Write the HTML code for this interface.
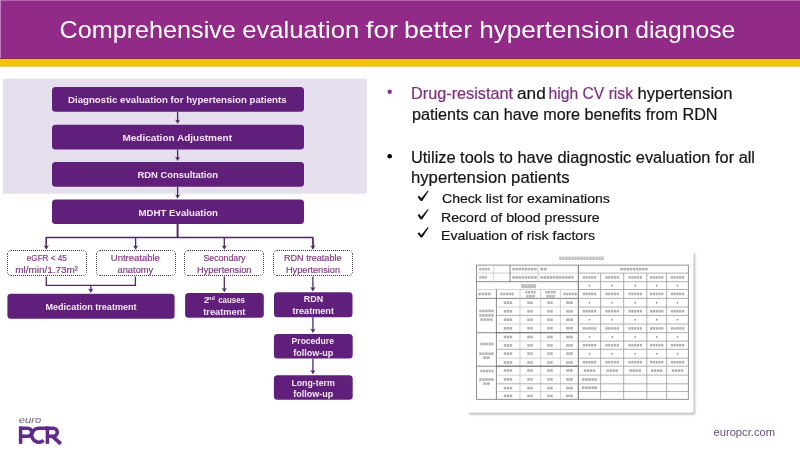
<!DOCTYPE html>
<html><head><meta charset="utf-8">
<style>
html,body{margin:0;padding:0;background:#fff;}
body{width:800px;height:450px;overflow:hidden;position:relative;font-family:"Liberation Sans",sans-serif;}
svg{position:absolute;left:0;top:0;will-change:transform;}
.t{fill:#fff;font-family:"Liberation Sans",sans-serif;}
.w{fill:#f7e8f8;font-weight:bold;font-family:"Liberation Sans",sans-serif;}
.p{fill:#7e3181;stroke:#7e3181;stroke-width:0.15;font-family:"Liberation Sans",sans-serif;}
.p2{fill:#7e2f7e;stroke:#7e2f7e;stroke-width:0.2;font-family:"Liberation Sans",sans-serif;}
.k{fill:#141414;stroke:#141414;stroke-width:0.2;font-family:"Liberation Sans",sans-serif;}
</style></head>
<body>
<svg width="800" height="450" viewBox="0 0 800 450">
<defs>
<filter id="sh" x="-5%" y="-5%" width="115%" height="115%"><feGaussianBlur stdDeviation="1.2"/></filter>
</defs>
<!-- header -->
<rect x="0" y="0" width="800" height="59" fill="#922a88"/>
<rect x="0" y="0" width="800" height="1" fill="#b567ae"/>
<rect x="0" y="0" width="1" height="59" fill="#c27fc0"/>
<rect x="0" y="58" width="800" height="1" fill="#8a2848"/>
<rect x="0" y="59" width="800" height="1" fill="#f4b451"/>
<rect x="0" y="60" width="800" height="6.2" fill="#f3c30a"/>
<rect x="0" y="66.2" width="800" height="0.8" fill="#e6c445"/>
<text class="t" x="59.60" y="38" font-size="24" textLength="176.24" lengthAdjust="spacingAndGlyphs">Comprehensive</text>
<text class="t" x="242.20" y="38" font-size="24" textLength="117.02" lengthAdjust="spacingAndGlyphs">evaluation</text>
<text class="t" x="365.80" y="38" font-size="24" textLength="32.21" lengthAdjust="spacingAndGlyphs">for</text>
<text class="t" x="404.00" y="38" font-size="24" textLength="68.03" lengthAdjust="spacingAndGlyphs">better</text>
<text class="t" x="479.20" y="38" font-size="24" textLength="149.68" lengthAdjust="spacingAndGlyphs">hypertension</text>
<text class="t" x="635.20" y="38" font-size="24" textLength="100.01" lengthAdjust="spacingAndGlyphs">diagnose</text>

<!-- lavender panel -->
<rect x="3" y="78.7" width="364" height="115" fill="#e5dfee"/>

<!-- main boxes -->
<rect x="52" y="87" width="252" height="24.7" rx="3.5" fill="#601f7b"/>
<rect x="52" y="124.7" width="252" height="24.7" rx="3.5" fill="#601f7b"/>
<rect x="52" y="162" width="252" height="24.7" rx="3.5" fill="#601f7b"/>
<rect x="52" y="199.6" width="252" height="24.4" rx="3.5" fill="#601f7b"/>
<text class="w" x="68.00" y="103" font-size="9.8" textLength="218.60" lengthAdjust="spacingAndGlyphs">Diagnostic evaluation for hypertension patients</text>
<text class="w" x="122.40" y="140.7" font-size="9.8" textLength="109.62" lengthAdjust="spacingAndGlyphs">Medication Adjustment</text>
<text class="w" x="137.40" y="178.3" font-size="9.8" textLength="80.60" lengthAdjust="spacingAndGlyphs">RDN Consultation</text>
<text class="w" x="138.50" y="215.5" font-size="9.8" textLength="79.51" lengthAdjust="spacingAndGlyphs">MDHT Evaluation</text>

<!-- arrows between main boxes -->
<g stroke="#4f2868" stroke-width="1.3" fill="none">
<path d="M177.6,111.7 V121.8" stroke-width="1.3"/>
<path d="M177.6,149.4 V159.1" stroke-width="1.3"/>
<path d="M177.6,186.7 V196.7" stroke-width="1.3"/>
<path d="M177.6,224 V237.5" stroke-width="2"/>
<path d="M46.3,248 V237.5 H312.9 V248"/>
<path d="M46.3,237.5 V247.7" stroke-width="1.3"/>
<path d="M135.6,237.5 V247.7" stroke-width="1.3"/>
<path d="M224.3,237.5 V247.7" stroke-width="1.3"/>
<path d="M312.9,237.5 V247.7" stroke-width="1.3"/>
<path d="M46.3,276.5 V285.3 H135.4 V276.5"/>
<path d="M90.8,285.3 V290.90000000000003" stroke-width="1.3"/>
<path d="M224.3,276.5 V290.20000000000005" stroke-width="1.3"/>
<path d="M312.9,276.5 V289.40000000000003" stroke-width="1.3"/>
<path d="M312.9,317.3 V331.0" stroke-width="1.3"/>
<path d="M312.9,358.4 V372.3" stroke-width="1.3"/>
</g>
<g fill="#4f2868">
<path d="M175.00,119.40 L177.6,123.8 L180.20,119.40 L177.6,120.50 Z"/>
<path d="M175.00,156.70 L177.6,161.1 L180.20,156.70 L177.6,157.80 Z"/>
<path d="M175.00,194.30 L177.6,198.7 L180.20,194.30 L177.6,195.40 Z"/>
<path d="M43.70,245.30 L46.3,249.7 L48.90,245.30 L46.3,246.40 Z"/>
<path d="M133.00,245.30 L135.6,249.7 L138.20,245.30 L135.6,246.40 Z"/>
<path d="M221.70,245.30 L224.3,249.7 L226.90,245.30 L224.3,246.40 Z"/>
<path d="M310.30,245.30 L312.9,249.7 L315.50,245.30 L312.9,246.40 Z"/>
<path d="M88.20,288.50 L90.8,292.90000000000003 L93.40,288.50 L90.8,289.60 Z"/>
<path d="M221.70,287.80 L224.3,292.20000000000005 L226.90,287.80 L224.3,288.90 Z"/>
<path d="M310.30,287.00 L312.9,291.40000000000003 L315.50,287.00 L312.9,288.10 Z"/>
<path d="M310.30,328.60 L312.9,333.0 L315.50,328.60 L312.9,329.70 Z"/>
<path d="M310.30,369.90 L312.9,374.3 L315.50,369.90 L312.9,371.00 Z"/>
</g>

<!-- dotted boxes -->
<g fill="#fff" stroke="none">
<rect x="7" y="250" width="80" height="26" rx="4"/>
<rect x="96" y="250" width="80" height="26" rx="4"/>
<rect x="184" y="250" width="80" height="26" rx="4"/>
<rect x="273" y="250" width="80" height="26" rx="4"/>
</g>
<g fill="none" stroke="#45334f" stroke-width="1" stroke-dasharray="1,1">
<path d="M11,250.5 H83"/>
<path d="M11,275.5 H83"/>
<path d="M7.5,254 V272"/>
<path d="M86.5,254 V272"/>
<path d="M7.5,254 A3.5,3.5 0 0 1 11,250.5"/>
<path d="M83,250.5 A3.5,3.5 0 0 1 86.5,254"/>
<path d="M86.5,272 A3.5,3.5 0 0 1 83,275.5"/>
<path d="M11,275.5 A3.5,3.5 0 0 1 7.5,272"/>
<path d="M100,250.5 H172"/>
<path d="M100,275.5 H172"/>
<path d="M96.5,254 V272"/>
<path d="M175.5,254 V272"/>
<path d="M96.5,254 A3.5,3.5 0 0 1 100,250.5"/>
<path d="M172,250.5 A3.5,3.5 0 0 1 175.5,254"/>
<path d="M175.5,272 A3.5,3.5 0 0 1 172,275.5"/>
<path d="M100,275.5 A3.5,3.5 0 0 1 96.5,272"/>
<path d="M188,250.5 H260"/>
<path d="M188,275.5 H260"/>
<path d="M184.5,254 V272"/>
<path d="M263.5,254 V272"/>
<path d="M184.5,254 A3.5,3.5 0 0 1 188,250.5"/>
<path d="M260,250.5 A3.5,3.5 0 0 1 263.5,254"/>
<path d="M263.5,272 A3.5,3.5 0 0 1 260,275.5"/>
<path d="M188,275.5 A3.5,3.5 0 0 1 184.5,272"/>
<path d="M277,250.5 H349"/>
<path d="M277,275.5 H349"/>
<path d="M273.5,254 V272"/>
<path d="M352.5,254 V272"/>
<path d="M273.5,254 A3.5,3.5 0 0 1 277,250.5"/>
<path d="M349,250.5 A3.5,3.5 0 0 1 352.5,254"/>
<path d="M352.5,272 A3.5,3.5 0 0 1 349,275.5"/>
<path d="M277,275.5 A3.5,3.5 0 0 1 273.5,272"/>
</g>
<text class="p" x="26.80" y="261" font-size="9.2" textLength="40.00" lengthAdjust="spacingAndGlyphs">eGFR &lt; 45</text>
<text class="p" x="15.20" y="272.5" font-size="9.2" textLength="63.00" lengthAdjust="spacingAndGlyphs">ml/min/1.73m²</text>
<text class="p" x="110.80" y="261" font-size="9.2" textLength="49.05" lengthAdjust="spacingAndGlyphs">Untreatable</text>
<text class="p" x="117.50" y="272.75" font-size="9.2" textLength="35.75" lengthAdjust="spacingAndGlyphs">anatomy</text>
<text class="p" x="203.50" y="261" font-size="9.2" textLength="42.01" lengthAdjust="spacingAndGlyphs">Secondary</text>
<text class="p" x="197.00" y="272.5" font-size="9.2" textLength="54.51" lengthAdjust="spacingAndGlyphs">Hypertension</text>
<text class="p" x="284.00" y="261" font-size="9.2" textLength="57.53" lengthAdjust="spacingAndGlyphs">RDN treatable</text>
<text class="p" x="286.00" y="272.5" font-size="9.2" textLength="54.00" lengthAdjust="spacingAndGlyphs">Hypertension</text>

<!-- lower boxes -->
<rect x="7.4" y="293.8" width="167.2" height="24.9" rx="3.5" fill="#601f7b"/>
<rect x="185.1" y="293.1" width="78.7" height="24.75" rx="3.5" fill="#601f7b"/>
<rect x="274" y="292.3" width="78.5" height="25" rx="3.5" fill="#601f7b"/>
<rect x="273.9" y="333.9" width="78.8" height="24.5" rx="3.5" fill="#601f7b"/>
<rect x="273.9" y="375.2" width="78.8" height="24.5" rx="3.5" fill="#601f7b"/>
<text class="w" x="45.50" y="310" font-size="9.0" textLength="91.05" lengthAdjust="spacingAndGlyphs">Medication treatment</text>
<text class="w" x="203.9" y="303" font-size="9.0">2<tspan font-size="5.8" x="208.1" dy="-3.4" textLength="6.8" lengthAdjust="spacingAndGlyphs">nd</tspan><tspan dy="3.4" x="218.2" textLength="26.8" lengthAdjust="spacingAndGlyphs">causes</tspan></text>
<text class="w" x="203.20" y="314.8" font-size="9.0" textLength="42.26" lengthAdjust="spacingAndGlyphs">treatment</text>
<text class="w" x="303.80" y="302.4" font-size="9.0" textLength="19.36" lengthAdjust="spacingAndGlyphs">RDN</text>
<text class="w" x="292.40" y="314.4" font-size="9.0" textLength="41.60" lengthAdjust="spacingAndGlyphs">treatment</text>
<text class="w" x="291.60" y="344" font-size="9.0" textLength="42.31" lengthAdjust="spacingAndGlyphs">Procedure</text>
<text class="w" x="293.20" y="355.6" font-size="9.0" textLength="40.00" lengthAdjust="spacingAndGlyphs">follow-up</text>
<text class="w" x="291.40" y="385.5" font-size="9.0" textLength="43.44" lengthAdjust="spacingAndGlyphs">Long-term</text>
<text class="w" x="293.20" y="397" font-size="9.0" textLength="40.00" lengthAdjust="spacingAndGlyphs">follow-up</text>

<!-- right bullets -->
<circle cx="389.7" cy="91.8" r="2.2" fill="#932a8f"/>
<text x="411.00" y="98.75" font-size="16" class="p2" textLength="102.04" lengthAdjust="spacingAndGlyphs">Drug-resistant</text>
<text x="517.00" y="98.75" font-size="16" class="k" textLength="28.71" lengthAdjust="spacingAndGlyphs">and</text>
<text x="548.50" y="98.75" font-size="16" class="p2" textLength="84.52" lengthAdjust="spacingAndGlyphs">high CV risk</text>
<text x="637.50" y="98.75" font-size="16" class="k" textLength="95.07" lengthAdjust="spacingAndGlyphs">hypertension</text>
<text x="412.00" y="120" font-size="16" class="k" textLength="305.51" lengthAdjust="spacingAndGlyphs">patients can have more benefits from RDN</text>
<circle cx="389.7" cy="156.2" r="2.3" fill="#000"/>
<text x="411.00" y="162.5" font-size="16" class="k" textLength="344.01" lengthAdjust="spacingAndGlyphs">Utilize tools to have diagnostic evaluation for all</text>
<text x="411.00" y="183" font-size="16" class="k" textLength="158.53" lengthAdjust="spacingAndGlyphs">hypertension patients</text>
<g fill="#141414">
<path transform="translate(0,0)" d="M417.5,196.9 L419.2,195.7 L421.3,198.3 L427.8,190.5 L428.7,191.1 L422.2,200.9 L420.7,201.0 Z"/>
<path transform="translate(0,18.4)" d="M417.5,196.9 L419.2,195.7 L421.3,198.3 L427.8,190.5 L428.7,191.1 L422.2,200.9 L420.7,201.0 Z"/>
<path transform="translate(0,36.6)" d="M417.5,196.9 L419.2,195.7 L421.3,198.3 L427.8,190.5 L428.7,191.1 L422.2,200.9 L420.7,201.0 Z"/>
</g>
<text x="442.00" y="203" font-size="13.4" class="k" textLength="167.80" lengthAdjust="spacingAndGlyphs">Check list for examinations</text>
<text x="441.00" y="221.5" font-size="13.4" class="k" textLength="158.53" lengthAdjust="spacingAndGlyphs">Record of blood pressure</text>
<text x="441.00" y="240" font-size="13.4" class="k" textLength="154.01" lengthAdjust="spacingAndGlyphs">Evaluation of risk factors</text>

<!-- table image -->
<g id="tbl">
<rect x="469" y="253.5" width="226" height="161" fill="#bbb" filter="url(#sh)"/>
<rect x="467.5" y="251.7" width="226" height="161" fill="#fff"/>
<rect x="559.3" y="256.6" width="2.4" height="3.4" fill="#777" opacity="0.5"/>
<rect x="562.3" y="256.6" width="2.4" height="3.4" fill="#777" opacity="0.5"/>
<rect x="565.3" y="256.6" width="2.4" height="3.4" fill="#777" opacity="0.5"/>
<rect x="568.3" y="256.6" width="2.4" height="3.4" fill="#777" opacity="0.5"/>
<rect x="571.3" y="256.6" width="2.4" height="3.4" fill="#777" opacity="0.5"/>
<rect x="574.3" y="256.6" width="2.4" height="3.4" fill="#777" opacity="0.5"/>
<rect x="577.3" y="256.6" width="2.4" height="3.4" fill="#777" opacity="0.5"/>
<rect x="580.3" y="256.6" width="2.4" height="3.4" fill="#777" opacity="0.5"/>
<rect x="583.3" y="256.6" width="2.4" height="3.4" fill="#777" opacity="0.5"/>
<rect x="586.3" y="256.6" width="2.4" height="3.4" fill="#777" opacity="0.5"/>
<rect x="589.3" y="256.6" width="2.4" height="3.4" fill="#777" opacity="0.5"/>
<rect x="592.3" y="256.6" width="2.4" height="3.4" fill="#777" opacity="0.5"/>
<rect x="595.3" y="256.6" width="2.4" height="3.4" fill="#777" opacity="0.5"/>
<rect x="598.3" y="256.6" width="2.4" height="3.4" fill="#777" opacity="0.5"/>
<rect x="601.3" y="256.6" width="2.4" height="3.4" fill="#777" opacity="0.5"/>
<rect x="476.5" y="265.1" width="211.79999999999995" height="134.2" fill="none" stroke="#777" stroke-width="0.8"/>
<line x1="476.5" y1="273.1" x2="578.3" y2="273.1" stroke="#c4c4c4" stroke-width="0.8"/>
<line x1="476.5" y1="281.7" x2="578.3" y2="281.7" stroke="#6a6a6a" stroke-width="0.8"/>
<line x1="476.5" y1="289.5" x2="578.3" y2="289.5" stroke="#c4c4c4" stroke-width="0.8"/>
<line x1="476.5" y1="298.4" x2="578.3" y2="298.4" stroke="#6a6a6a" stroke-width="0.8"/>
<line x1="493.7" y1="265.1" x2="493.7" y2="281.7" stroke="#c4c4c4" stroke-width="0.8"/>
<line x1="510" y1="265.1" x2="510" y2="281.7" stroke="#6a6a6a" stroke-width="0.8"/>
<line x1="538" y1="265.1" x2="538" y2="281.7" stroke="#c4c4c4" stroke-width="0.8"/>
<line x1="578.3" y1="265.1" x2="578.3" y2="399.3" stroke="#6a6a6a" stroke-width="1.0"/>
<line x1="496.4" y1="289.5" x2="496.4" y2="399.3" stroke="#6a6a6a" stroke-width="0.8"/>
<line x1="520" y1="289.5" x2="520" y2="399.3" stroke="#c4c4c4" stroke-width="0.8"/>
<line x1="540.7" y1="289.5" x2="540.7" y2="399.3" stroke="#c4c4c4" stroke-width="0.8"/>
<line x1="560.4" y1="289.5" x2="560.4" y2="399.3" stroke="#c4c4c4" stroke-width="0.8"/>
<line x1="496.4" y1="307.0" x2="578.3" y2="307.0" stroke="#c4c4c4" stroke-width="0.8"/>
<line x1="496.4" y1="315.4" x2="578.3" y2="315.4" stroke="#9a9a9a" stroke-width="0.8"/>
<line x1="496.4" y1="324.0" x2="578.3" y2="324.0" stroke="#c4c4c4" stroke-width="0.8"/>
<line x1="496.4" y1="332.7" x2="578.3" y2="332.7" stroke="#6a6a6a" stroke-width="0.8"/>
<line x1="496.4" y1="341.1" x2="578.3" y2="341.1" stroke="#c4c4c4" stroke-width="0.8"/>
<line x1="496.4" y1="349.3" x2="578.3" y2="349.3" stroke="#9a9a9a" stroke-width="0.8"/>
<line x1="496.4" y1="358.2" x2="578.3" y2="358.2" stroke="#c4c4c4" stroke-width="0.8"/>
<line x1="496.4" y1="366.2" x2="578.3" y2="366.2" stroke="#6a6a6a" stroke-width="0.8"/>
<line x1="496.4" y1="375.1" x2="578.3" y2="375.1" stroke="#c4c4c4" stroke-width="0.8"/>
<line x1="496.4" y1="383.8" x2="578.3" y2="383.8" stroke="#9a9a9a" stroke-width="0.8"/>
<line x1="496.4" y1="391.6" x2="578.3" y2="391.6" stroke="#c4c4c4" stroke-width="0.8"/>
<line x1="476.5" y1="332.7" x2="578.3" y2="332.7" stroke="#6a6a6a" stroke-width="0.8"/>
<line x1="476.5" y1="366.2" x2="578.3" y2="366.2" stroke="#6a6a6a" stroke-width="0.8"/>
<line x1="578.3" y1="273.1" x2="688.3" y2="273.1" stroke="#9a9a9a" stroke-width="0.8"/>
<line x1="578.3" y1="281.7" x2="688.3" y2="281.7" stroke="#9a9a9a" stroke-width="0.8"/>
<line x1="578.3" y1="289.5" x2="688.3" y2="289.5" stroke="#9a9a9a" stroke-width="0.8"/>
<line x1="578.3" y1="298.4" x2="688.3" y2="298.4" stroke="#9a9a9a" stroke-width="0.8"/>
<line x1="578.3" y1="307.0" x2="688.3" y2="307.0" stroke="#9a9a9a" stroke-width="0.8"/>
<line x1="578.3" y1="315.4" x2="688.3" y2="315.4" stroke="#9a9a9a" stroke-width="0.8"/>
<line x1="578.3" y1="324.0" x2="688.3" y2="324.0" stroke="#9a9a9a" stroke-width="0.8"/>
<line x1="578.3" y1="332.7" x2="688.3" y2="332.7" stroke="#9a9a9a" stroke-width="0.8"/>
<line x1="578.3" y1="341.1" x2="688.3" y2="341.1" stroke="#9a9a9a" stroke-width="0.8"/>
<line x1="578.3" y1="349.3" x2="688.3" y2="349.3" stroke="#9a9a9a" stroke-width="0.8"/>
<line x1="578.3" y1="358.2" x2="688.3" y2="358.2" stroke="#9a9a9a" stroke-width="0.8"/>
<line x1="578.3" y1="366.2" x2="688.3" y2="366.2" stroke="#9a9a9a" stroke-width="0.8"/>
<line x1="578.3" y1="375.1" x2="688.3" y2="375.1" stroke="#9a9a9a" stroke-width="0.8"/>
<line x1="578.3" y1="383.8" x2="688.3" y2="383.8" stroke="#9a9a9a" stroke-width="0.8"/>
<line x1="578.3" y1="391.6" x2="688.3" y2="391.6" stroke="#9a9a9a" stroke-width="0.8"/>
<line x1="600.6" y1="273.1" x2="600.6" y2="399.3" stroke="#9a9a9a" stroke-width="0.8"/>
<line x1="623.7" y1="273.1" x2="623.7" y2="399.3" stroke="#9a9a9a" stroke-width="0.8"/>
<line x1="646.8" y1="273.1" x2="646.8" y2="399.3" stroke="#9a9a9a" stroke-width="0.8"/>
<line x1="666.6" y1="273.1" x2="666.6" y2="399.3" stroke="#9a9a9a" stroke-width="0.8"/>
<rect x="479.3" y="267.8" width="2.1" height="2.6" fill="#777777" opacity="0.58"/>
<rect x="482.1" y="267.8" width="2.1" height="2.6" fill="#777777" opacity="0.58"/>
<rect x="484.8" y="267.8" width="2.1" height="2.6" fill="#777777" opacity="0.58"/>
<rect x="487.6" y="267.8" width="2.1" height="2.6" fill="#777777" opacity="0.58"/>
<rect x="512.3" y="267.8" width="2.5" height="2.6" fill="#777777" opacity="0.58"/>
<rect x="515.4" y="267.8" width="2.5" height="2.6" fill="#777777" opacity="0.58"/>
<rect x="518.5" y="267.8" width="2.5" height="2.6" fill="#777777" opacity="0.58"/>
<rect x="521.7" y="267.8" width="2.5" height="2.6" fill="#777777" opacity="0.58"/>
<rect x="524.8" y="267.8" width="2.5" height="2.6" fill="#777777" opacity="0.58"/>
<rect x="527.9" y="267.8" width="2.5" height="2.6" fill="#777777" opacity="0.58"/>
<rect x="531.0" y="267.8" width="2.5" height="2.6" fill="#777777" opacity="0.58"/>
<rect x="534.2" y="267.8" width="2.5" height="2.6" fill="#777777" opacity="0.58"/>
<rect x="540.3" y="267.8" width="2.9" height="2.6" fill="#777777" opacity="0.58"/>
<rect x="543.8" y="267.8" width="2.9" height="2.6" fill="#777777" opacity="0.58"/>
<rect x="479.3" y="276.1" width="2.1" height="2.6" fill="#777777" opacity="0.58"/>
<rect x="482.0" y="276.1" width="2.1" height="2.6" fill="#777777" opacity="0.58"/>
<rect x="484.6" y="276.1" width="2.1" height="2.6" fill="#777777" opacity="0.58"/>
<rect x="512.3" y="276.1" width="2.5" height="2.6" fill="#777777" opacity="0.58"/>
<rect x="515.4" y="276.1" width="2.5" height="2.6" fill="#777777" opacity="0.58"/>
<rect x="518.5" y="276.1" width="2.5" height="2.6" fill="#777777" opacity="0.58"/>
<rect x="521.7" y="276.1" width="2.5" height="2.6" fill="#777777" opacity="0.58"/>
<rect x="524.8" y="276.1" width="2.5" height="2.6" fill="#777777" opacity="0.58"/>
<rect x="527.9" y="276.1" width="2.5" height="2.6" fill="#777777" opacity="0.58"/>
<rect x="531.0" y="276.1" width="2.5" height="2.6" fill="#777777" opacity="0.58"/>
<rect x="534.2" y="276.1" width="2.5" height="2.6" fill="#777777" opacity="0.58"/>
<rect x="540.3" y="276.1" width="2.5" height="2.6" fill="#777777" opacity="0.58"/>
<rect x="543.4" y="276.1" width="2.5" height="2.6" fill="#777777" opacity="0.58"/>
<rect x="546.5" y="276.1" width="2.5" height="2.6" fill="#777777" opacity="0.58"/>
<rect x="549.6" y="276.1" width="2.5" height="2.6" fill="#777777" opacity="0.58"/>
<rect x="552.7" y="276.1" width="2.5" height="2.6" fill="#777777" opacity="0.58"/>
<rect x="555.8" y="276.1" width="2.5" height="2.6" fill="#777777" opacity="0.58"/>
<rect x="558.8" y="276.1" width="2.5" height="2.6" fill="#777777" opacity="0.58"/>
<rect x="561.9" y="276.1" width="2.5" height="2.6" fill="#777777" opacity="0.58"/>
<rect x="565.0" y="276.1" width="2.5" height="2.6" fill="#777777" opacity="0.58"/>
<rect x="568.1" y="276.1" width="2.5" height="2.6" fill="#777777" opacity="0.58"/>
<rect x="571.2" y="276.1" width="2.5" height="2.6" fill="#777777" opacity="0.58"/>
<rect x="521.3" y="284.2" width="2.4" height="2.8" fill="#666" opacity="0.5"/>
<rect x="524.3" y="284.2" width="2.4" height="2.8" fill="#666" opacity="0.5"/>
<rect x="527.3" y="284.2" width="2.4" height="2.8" fill="#666" opacity="0.5"/>
<rect x="530.3" y="284.2" width="2.4" height="2.8" fill="#666" opacity="0.5"/>
<rect x="533.3" y="284.2" width="2.4" height="2.8" fill="#666" opacity="0.5"/>
<line x1="521" y1="287.6" x2="536" y2="287.6" stroke="#777" stroke-width="0.5"/>
<rect x="478.3" y="292.7" width="2.6" height="2.6" fill="#777777" opacity="0.58"/>
<rect x="481.6" y="292.7" width="2.6" height="2.6" fill="#777777" opacity="0.58"/>
<rect x="484.8" y="292.7" width="2.6" height="2.6" fill="#777777" opacity="0.58"/>
<rect x="488.1" y="292.7" width="2.6" height="2.6" fill="#777777" opacity="0.58"/>
<rect x="500.3" y="292.7" width="2.2" height="2.6" fill="#777777" opacity="0.58"/>
<rect x="503.1" y="292.7" width="2.2" height="2.6" fill="#777777" opacity="0.58"/>
<rect x="505.9" y="292.7" width="2.2" height="2.6" fill="#777777" opacity="0.58"/>
<rect x="508.7" y="292.7" width="2.2" height="2.6" fill="#777777" opacity="0.58"/>
<rect x="511.5" y="292.7" width="2.2" height="2.6" fill="#777777" opacity="0.58"/>
<rect x="525.3" y="290.9" width="2.1" height="2.6" fill="#777777" opacity="0.58"/>
<rect x="528.0" y="290.9" width="2.1" height="2.6" fill="#777777" opacity="0.58"/>
<rect x="530.8" y="290.9" width="2.1" height="2.6" fill="#777777" opacity="0.58"/>
<rect x="533.5" y="290.9" width="2.1" height="2.6" fill="#777777" opacity="0.58"/>
<rect x="526.3" y="294.9" width="2.4" height="2.6" fill="#777777" opacity="0.58"/>
<rect x="529.3" y="294.9" width="2.4" height="2.6" fill="#777777" opacity="0.58"/>
<rect x="532.3" y="294.9" width="2.4" height="2.6" fill="#777777" opacity="0.58"/>
<rect x="545.3" y="290.9" width="2.1" height="2.6" fill="#777777" opacity="0.58"/>
<rect x="548.0" y="290.9" width="2.1" height="2.6" fill="#777777" opacity="0.58"/>
<rect x="550.8" y="290.9" width="2.1" height="2.6" fill="#777777" opacity="0.58"/>
<rect x="553.5" y="290.9" width="2.1" height="2.6" fill="#777777" opacity="0.58"/>
<rect x="546.3" y="294.9" width="2.4" height="2.6" fill="#777777" opacity="0.58"/>
<rect x="549.3" y="294.9" width="2.4" height="2.6" fill="#777777" opacity="0.58"/>
<rect x="552.3" y="294.9" width="2.4" height="2.6" fill="#777777" opacity="0.58"/>
<rect x="563.3" y="292.7" width="2.2" height="2.6" fill="#777777" opacity="0.58"/>
<rect x="566.1" y="292.7" width="2.2" height="2.6" fill="#777777" opacity="0.58"/>
<rect x="568.9" y="292.7" width="2.2" height="2.6" fill="#777777" opacity="0.58"/>
<rect x="571.7" y="292.7" width="2.2" height="2.6" fill="#777777" opacity="0.58"/>
<rect x="574.5" y="292.7" width="2.2" height="2.6" fill="#777777" opacity="0.58"/>
<rect x="479.3" y="309.7" width="2.4" height="2.6" fill="#777777" opacity="0.58"/>
<rect x="482.3" y="309.7" width="2.4" height="2.6" fill="#777777" opacity="0.58"/>
<rect x="485.3" y="309.7" width="2.4" height="2.6" fill="#777777" opacity="0.58"/>
<rect x="488.3" y="309.7" width="2.4" height="2.6" fill="#777777" opacity="0.58"/>
<rect x="491.3" y="309.7" width="2.4" height="2.6" fill="#777777" opacity="0.58"/>
<rect x="479.3" y="314.1" width="2.4" height="2.6" fill="#777777" opacity="0.58"/>
<rect x="482.3" y="314.1" width="2.4" height="2.6" fill="#777777" opacity="0.58"/>
<rect x="485.3" y="314.1" width="2.4" height="2.6" fill="#777777" opacity="0.58"/>
<rect x="488.3" y="314.1" width="2.4" height="2.6" fill="#777777" opacity="0.58"/>
<rect x="491.3" y="314.1" width="2.4" height="2.6" fill="#777777" opacity="0.58"/>
<rect x="480.3" y="318.3" width="2.6" height="2.6" fill="#777777" opacity="0.58"/>
<rect x="483.6" y="318.3" width="2.6" height="2.6" fill="#777777" opacity="0.58"/>
<rect x="486.8" y="318.3" width="2.6" height="2.6" fill="#777777" opacity="0.58"/>
<rect x="490.1" y="318.3" width="2.6" height="2.6" fill="#777777" opacity="0.58"/>
<rect x="503.8" y="301.4" width="2.4" height="2.6" fill="#777777" opacity="0.58"/>
<rect x="506.8" y="301.4" width="2.4" height="2.6" fill="#777777" opacity="0.58"/>
<rect x="509.8" y="301.4" width="2.4" height="2.6" fill="#777777" opacity="0.58"/>
<rect x="527.3" y="301.4" width="2.4" height="2.6" fill="#777777" opacity="0.58"/>
<rect x="530.3" y="301.4" width="2.4" height="2.6" fill="#777777" opacity="0.58"/>
<rect x="547.3" y="301.4" width="2.4" height="2.6" fill="#777777" opacity="0.58"/>
<rect x="550.3" y="301.4" width="2.4" height="2.6" fill="#777777" opacity="0.58"/>
<rect x="566.3" y="301.4" width="2.9" height="2.6" fill="#777777" opacity="0.58"/>
<rect x="569.8" y="301.4" width="2.9" height="2.6" fill="#777777" opacity="0.58"/>
<rect x="503.8" y="310.0" width="2.4" height="2.6" fill="#777777" opacity="0.58"/>
<rect x="506.8" y="310.0" width="2.4" height="2.6" fill="#777777" opacity="0.58"/>
<rect x="509.8" y="310.0" width="2.4" height="2.6" fill="#777777" opacity="0.58"/>
<rect x="527.3" y="310.0" width="2.4" height="2.6" fill="#777777" opacity="0.58"/>
<rect x="530.3" y="310.0" width="2.4" height="2.6" fill="#777777" opacity="0.58"/>
<rect x="547.3" y="310.0" width="2.4" height="2.6" fill="#777777" opacity="0.58"/>
<rect x="550.3" y="310.0" width="2.4" height="2.6" fill="#777777" opacity="0.58"/>
<rect x="566.3" y="310.0" width="2.9" height="2.6" fill="#777777" opacity="0.58"/>
<rect x="569.8" y="310.0" width="2.9" height="2.6" fill="#777777" opacity="0.58"/>
<rect x="503.8" y="318.4" width="2.4" height="2.6" fill="#777777" opacity="0.58"/>
<rect x="506.8" y="318.4" width="2.4" height="2.6" fill="#777777" opacity="0.58"/>
<rect x="509.8" y="318.4" width="2.4" height="2.6" fill="#777777" opacity="0.58"/>
<rect x="527.3" y="318.4" width="2.4" height="2.6" fill="#777777" opacity="0.58"/>
<rect x="530.3" y="318.4" width="2.4" height="2.6" fill="#777777" opacity="0.58"/>
<rect x="547.3" y="318.4" width="2.4" height="2.6" fill="#777777" opacity="0.58"/>
<rect x="550.3" y="318.4" width="2.4" height="2.6" fill="#777777" opacity="0.58"/>
<rect x="566.3" y="318.4" width="2.9" height="2.6" fill="#777777" opacity="0.58"/>
<rect x="569.8" y="318.4" width="2.9" height="2.6" fill="#777777" opacity="0.58"/>
<rect x="503.8" y="327.0" width="2.4" height="2.6" fill="#777777" opacity="0.58"/>
<rect x="506.8" y="327.0" width="2.4" height="2.6" fill="#777777" opacity="0.58"/>
<rect x="509.8" y="327.0" width="2.4" height="2.6" fill="#777777" opacity="0.58"/>
<rect x="527.3" y="327.0" width="2.4" height="2.6" fill="#777777" opacity="0.58"/>
<rect x="530.3" y="327.0" width="2.4" height="2.6" fill="#777777" opacity="0.58"/>
<rect x="547.3" y="327.0" width="2.4" height="2.6" fill="#777777" opacity="0.58"/>
<rect x="550.3" y="327.0" width="2.4" height="2.6" fill="#777777" opacity="0.58"/>
<rect x="566.3" y="327.0" width="2.9" height="2.6" fill="#777777" opacity="0.58"/>
<rect x="569.8" y="327.0" width="2.9" height="2.6" fill="#777777" opacity="0.58"/>
<rect x="480.3" y="342.7" width="2.2" height="2.6" fill="#777777" opacity="0.58"/>
<rect x="483.1" y="342.7" width="2.2" height="2.6" fill="#777777" opacity="0.58"/>
<rect x="485.9" y="342.7" width="2.2" height="2.6" fill="#777777" opacity="0.58"/>
<rect x="488.7" y="342.7" width="2.2" height="2.6" fill="#777777" opacity="0.58"/>
<rect x="491.5" y="342.7" width="2.2" height="2.6" fill="#777777" opacity="0.58"/>
<rect x="479.3" y="352.4" width="2.4" height="2.6" fill="#777777" opacity="0.58"/>
<rect x="482.3" y="352.4" width="2.4" height="2.6" fill="#777777" opacity="0.58"/>
<rect x="485.3" y="352.4" width="2.4" height="2.6" fill="#777777" opacity="0.58"/>
<rect x="488.3" y="352.4" width="2.4" height="2.6" fill="#777777" opacity="0.58"/>
<rect x="491.3" y="352.4" width="2.4" height="2.6" fill="#777777" opacity="0.58"/>
<rect x="483.3" y="356.4" width="2.9" height="2.6" fill="#777777" opacity="0.58"/>
<rect x="486.8" y="356.4" width="2.9" height="2.6" fill="#777777" opacity="0.58"/>
<rect x="503.8" y="335.7" width="2.4" height="2.6" fill="#777777" opacity="0.58"/>
<rect x="506.8" y="335.7" width="2.4" height="2.6" fill="#777777" opacity="0.58"/>
<rect x="509.8" y="335.7" width="2.4" height="2.6" fill="#777777" opacity="0.58"/>
<rect x="527.3" y="335.7" width="2.4" height="2.6" fill="#777777" opacity="0.58"/>
<rect x="530.3" y="335.7" width="2.4" height="2.6" fill="#777777" opacity="0.58"/>
<rect x="547.3" y="335.7" width="2.4" height="2.6" fill="#777777" opacity="0.58"/>
<rect x="550.3" y="335.7" width="2.4" height="2.6" fill="#777777" opacity="0.58"/>
<rect x="566.3" y="335.7" width="2.9" height="2.6" fill="#777777" opacity="0.58"/>
<rect x="569.8" y="335.7" width="2.9" height="2.6" fill="#777777" opacity="0.58"/>
<rect x="503.8" y="344.1" width="2.4" height="2.6" fill="#777777" opacity="0.58"/>
<rect x="506.8" y="344.1" width="2.4" height="2.6" fill="#777777" opacity="0.58"/>
<rect x="509.8" y="344.1" width="2.4" height="2.6" fill="#777777" opacity="0.58"/>
<rect x="527.3" y="344.1" width="2.4" height="2.6" fill="#777777" opacity="0.58"/>
<rect x="530.3" y="344.1" width="2.4" height="2.6" fill="#777777" opacity="0.58"/>
<rect x="547.3" y="344.1" width="2.4" height="2.6" fill="#777777" opacity="0.58"/>
<rect x="550.3" y="344.1" width="2.4" height="2.6" fill="#777777" opacity="0.58"/>
<rect x="566.3" y="344.1" width="2.9" height="2.6" fill="#777777" opacity="0.58"/>
<rect x="569.8" y="344.1" width="2.9" height="2.6" fill="#777777" opacity="0.58"/>
<rect x="503.8" y="352.3" width="2.4" height="2.6" fill="#777777" opacity="0.58"/>
<rect x="506.8" y="352.3" width="2.4" height="2.6" fill="#777777" opacity="0.58"/>
<rect x="509.8" y="352.3" width="2.4" height="2.6" fill="#777777" opacity="0.58"/>
<rect x="527.3" y="352.3" width="2.4" height="2.6" fill="#777777" opacity="0.58"/>
<rect x="530.3" y="352.3" width="2.4" height="2.6" fill="#777777" opacity="0.58"/>
<rect x="547.3" y="352.3" width="2.4" height="2.6" fill="#777777" opacity="0.58"/>
<rect x="550.3" y="352.3" width="2.4" height="2.6" fill="#777777" opacity="0.58"/>
<rect x="566.3" y="352.3" width="2.9" height="2.6" fill="#777777" opacity="0.58"/>
<rect x="569.8" y="352.3" width="2.9" height="2.6" fill="#777777" opacity="0.58"/>
<rect x="503.8" y="361.2" width="2.4" height="2.6" fill="#777777" opacity="0.58"/>
<rect x="506.8" y="361.2" width="2.4" height="2.6" fill="#777777" opacity="0.58"/>
<rect x="509.8" y="361.2" width="2.4" height="2.6" fill="#777777" opacity="0.58"/>
<rect x="527.3" y="361.2" width="2.4" height="2.6" fill="#777777" opacity="0.58"/>
<rect x="530.3" y="361.2" width="2.4" height="2.6" fill="#777777" opacity="0.58"/>
<rect x="547.3" y="361.2" width="2.4" height="2.6" fill="#777777" opacity="0.58"/>
<rect x="550.3" y="361.2" width="2.4" height="2.6" fill="#777777" opacity="0.58"/>
<rect x="566.3" y="361.2" width="2.9" height="2.6" fill="#777777" opacity="0.58"/>
<rect x="569.8" y="361.2" width="2.9" height="2.6" fill="#777777" opacity="0.58"/>
<rect x="480.3" y="369.7" width="2.2" height="2.6" fill="#777777" opacity="0.58"/>
<rect x="483.1" y="369.7" width="2.2" height="2.6" fill="#777777" opacity="0.58"/>
<rect x="485.9" y="369.7" width="2.2" height="2.6" fill="#777777" opacity="0.58"/>
<rect x="488.7" y="369.7" width="2.2" height="2.6" fill="#777777" opacity="0.58"/>
<rect x="491.5" y="369.7" width="2.2" height="2.6" fill="#777777" opacity="0.58"/>
<rect x="479.3" y="378.2" width="2.4" height="2.6" fill="#777777" opacity="0.58"/>
<rect x="482.3" y="378.2" width="2.4" height="2.6" fill="#777777" opacity="0.58"/>
<rect x="485.3" y="378.2" width="2.4" height="2.6" fill="#777777" opacity="0.58"/>
<rect x="488.3" y="378.2" width="2.4" height="2.6" fill="#777777" opacity="0.58"/>
<rect x="491.3" y="378.2" width="2.4" height="2.6" fill="#777777" opacity="0.58"/>
<rect x="483.3" y="382.3" width="2.9" height="2.6" fill="#777777" opacity="0.58"/>
<rect x="486.8" y="382.3" width="2.9" height="2.6" fill="#777777" opacity="0.58"/>
<rect x="503.8" y="369.2" width="2.4" height="2.6" fill="#777777" opacity="0.58"/>
<rect x="506.8" y="369.2" width="2.4" height="2.6" fill="#777777" opacity="0.58"/>
<rect x="509.8" y="369.2" width="2.4" height="2.6" fill="#777777" opacity="0.58"/>
<rect x="527.3" y="369.2" width="2.4" height="2.6" fill="#777777" opacity="0.58"/>
<rect x="530.3" y="369.2" width="2.4" height="2.6" fill="#777777" opacity="0.58"/>
<rect x="547.3" y="369.2" width="2.4" height="2.6" fill="#777777" opacity="0.58"/>
<rect x="550.3" y="369.2" width="2.4" height="2.6" fill="#777777" opacity="0.58"/>
<rect x="566.3" y="369.2" width="2.9" height="2.6" fill="#777777" opacity="0.58"/>
<rect x="569.8" y="369.2" width="2.9" height="2.6" fill="#777777" opacity="0.58"/>
<rect x="503.8" y="378.1" width="2.4" height="2.6" fill="#777777" opacity="0.58"/>
<rect x="506.8" y="378.1" width="2.4" height="2.6" fill="#777777" opacity="0.58"/>
<rect x="509.8" y="378.1" width="2.4" height="2.6" fill="#777777" opacity="0.58"/>
<rect x="527.3" y="378.1" width="2.4" height="2.6" fill="#777777" opacity="0.58"/>
<rect x="530.3" y="378.1" width="2.4" height="2.6" fill="#777777" opacity="0.58"/>
<rect x="547.3" y="378.1" width="2.4" height="2.6" fill="#777777" opacity="0.58"/>
<rect x="550.3" y="378.1" width="2.4" height="2.6" fill="#777777" opacity="0.58"/>
<rect x="566.3" y="378.1" width="2.9" height="2.6" fill="#777777" opacity="0.58"/>
<rect x="569.8" y="378.1" width="2.9" height="2.6" fill="#777777" opacity="0.58"/>
<rect x="503.8" y="386.8" width="2.4" height="2.6" fill="#777777" opacity="0.58"/>
<rect x="506.8" y="386.8" width="2.4" height="2.6" fill="#777777" opacity="0.58"/>
<rect x="509.8" y="386.8" width="2.4" height="2.6" fill="#777777" opacity="0.58"/>
<rect x="527.3" y="386.8" width="2.4" height="2.6" fill="#777777" opacity="0.58"/>
<rect x="530.3" y="386.8" width="2.4" height="2.6" fill="#777777" opacity="0.58"/>
<rect x="547.3" y="386.8" width="2.4" height="2.6" fill="#777777" opacity="0.58"/>
<rect x="550.3" y="386.8" width="2.4" height="2.6" fill="#777777" opacity="0.58"/>
<rect x="566.3" y="386.8" width="2.9" height="2.6" fill="#777777" opacity="0.58"/>
<rect x="569.8" y="386.8" width="2.9" height="2.6" fill="#777777" opacity="0.58"/>
<rect x="503.8" y="394.6" width="2.4" height="2.6" fill="#777777" opacity="0.58"/>
<rect x="506.8" y="394.6" width="2.4" height="2.6" fill="#777777" opacity="0.58"/>
<rect x="509.8" y="394.6" width="2.4" height="2.6" fill="#777777" opacity="0.58"/>
<rect x="527.3" y="394.6" width="2.4" height="2.6" fill="#777777" opacity="0.58"/>
<rect x="530.3" y="394.6" width="2.4" height="2.6" fill="#777777" opacity="0.58"/>
<rect x="547.3" y="394.6" width="2.4" height="2.6" fill="#777777" opacity="0.58"/>
<rect x="550.3" y="394.6" width="2.4" height="2.6" fill="#777777" opacity="0.58"/>
<rect x="566.3" y="394.6" width="2.9" height="2.6" fill="#777777" opacity="0.58"/>
<rect x="569.8" y="394.6" width="2.9" height="2.6" fill="#777777" opacity="0.58"/>
<rect x="620.3" y="267.8" width="2.5" height="2.6" fill="#777777" opacity="0.58"/>
<rect x="623.4" y="267.8" width="2.5" height="2.6" fill="#777777" opacity="0.58"/>
<rect x="626.5" y="267.8" width="2.5" height="2.6" fill="#777777" opacity="0.58"/>
<rect x="629.6" y="267.8" width="2.5" height="2.6" fill="#777777" opacity="0.58"/>
<rect x="632.7" y="267.8" width="2.5" height="2.6" fill="#777777" opacity="0.58"/>
<rect x="635.9" y="267.8" width="2.5" height="2.6" fill="#777777" opacity="0.58"/>
<rect x="639.0" y="267.8" width="2.5" height="2.6" fill="#777777" opacity="0.58"/>
<rect x="642.1" y="267.8" width="2.5" height="2.6" fill="#777777" opacity="0.58"/>
<rect x="645.2" y="267.8" width="2.5" height="2.6" fill="#777777" opacity="0.58"/>
<rect x="582.8" y="276.1" width="2.2" height="2.6" fill="#777777" opacity="0.58"/>
<rect x="585.5" y="276.1" width="2.2" height="2.6" fill="#777777" opacity="0.58"/>
<rect x="588.4" y="276.1" width="2.2" height="2.6" fill="#777777" opacity="0.58"/>
<rect x="591.1" y="276.1" width="2.2" height="2.6" fill="#777777" opacity="0.58"/>
<rect x="594.0" y="276.1" width="2.2" height="2.6" fill="#777777" opacity="0.58"/>
<rect x="605.5" y="276.1" width="2.2" height="2.6" fill="#777777" opacity="0.58"/>
<rect x="608.2" y="276.1" width="2.2" height="2.6" fill="#777777" opacity="0.58"/>
<rect x="611.1" y="276.1" width="2.2" height="2.6" fill="#777777" opacity="0.58"/>
<rect x="613.9" y="276.1" width="2.2" height="2.6" fill="#777777" opacity="0.58"/>
<rect x="616.7" y="276.1" width="2.2" height="2.6" fill="#777777" opacity="0.58"/>
<rect x="628.5" y="276.1" width="2.2" height="2.6" fill="#777777" opacity="0.58"/>
<rect x="631.3" y="276.1" width="2.2" height="2.6" fill="#777777" opacity="0.58"/>
<rect x="634.1" y="276.1" width="2.2" height="2.6" fill="#777777" opacity="0.58"/>
<rect x="636.9" y="276.1" width="2.2" height="2.6" fill="#777777" opacity="0.58"/>
<rect x="639.8" y="276.1" width="2.2" height="2.6" fill="#777777" opacity="0.58"/>
<rect x="650.0" y="276.1" width="2.2" height="2.6" fill="#777777" opacity="0.58"/>
<rect x="652.8" y="276.1" width="2.2" height="2.6" fill="#777777" opacity="0.58"/>
<rect x="655.6" y="276.1" width="2.2" height="2.6" fill="#777777" opacity="0.58"/>
<rect x="658.4" y="276.1" width="2.2" height="2.6" fill="#777777" opacity="0.58"/>
<rect x="661.2" y="276.1" width="2.2" height="2.6" fill="#777777" opacity="0.58"/>
<rect x="670.8" y="276.1" width="2.2" height="2.6" fill="#777777" opacity="0.58"/>
<rect x="673.5" y="276.1" width="2.2" height="2.6" fill="#777777" opacity="0.58"/>
<rect x="676.4" y="276.1" width="2.2" height="2.6" fill="#777777" opacity="0.58"/>
<rect x="679.1" y="276.1" width="2.2" height="2.6" fill="#777777" opacity="0.58"/>
<rect x="682.0" y="276.1" width="2.2" height="2.6" fill="#777777" opacity="0.58"/>
<rect x="588.8" y="284.8" width="1.4" height="1.6" fill="#555" opacity="0.7"/>
<rect x="611.5" y="284.8" width="1.4" height="1.6" fill="#555" opacity="0.7"/>
<rect x="634.5" y="284.8" width="1.4" height="1.6" fill="#555" opacity="0.7"/>
<rect x="656.0" y="284.8" width="1.4" height="1.6" fill="#555" opacity="0.7"/>
<rect x="676.8" y="284.8" width="1.4" height="1.6" fill="#555" opacity="0.7"/>
<rect x="582.8" y="292.6" width="2.2" height="2.6" fill="#777777" opacity="0.58"/>
<rect x="585.5" y="292.6" width="2.2" height="2.6" fill="#777777" opacity="0.58"/>
<rect x="588.4" y="292.6" width="2.2" height="2.6" fill="#777777" opacity="0.58"/>
<rect x="591.1" y="292.6" width="2.2" height="2.6" fill="#777777" opacity="0.58"/>
<rect x="594.0" y="292.6" width="2.2" height="2.6" fill="#777777" opacity="0.58"/>
<rect x="605.5" y="292.6" width="2.2" height="2.6" fill="#777777" opacity="0.58"/>
<rect x="608.2" y="292.6" width="2.2" height="2.6" fill="#777777" opacity="0.58"/>
<rect x="611.1" y="292.6" width="2.2" height="2.6" fill="#777777" opacity="0.58"/>
<rect x="613.9" y="292.6" width="2.2" height="2.6" fill="#777777" opacity="0.58"/>
<rect x="616.7" y="292.6" width="2.2" height="2.6" fill="#777777" opacity="0.58"/>
<rect x="628.5" y="292.6" width="2.2" height="2.6" fill="#777777" opacity="0.58"/>
<rect x="631.3" y="292.6" width="2.2" height="2.6" fill="#777777" opacity="0.58"/>
<rect x="634.1" y="292.6" width="2.2" height="2.6" fill="#777777" opacity="0.58"/>
<rect x="636.9" y="292.6" width="2.2" height="2.6" fill="#777777" opacity="0.58"/>
<rect x="639.8" y="292.6" width="2.2" height="2.6" fill="#777777" opacity="0.58"/>
<rect x="650.0" y="292.6" width="2.2" height="2.6" fill="#777777" opacity="0.58"/>
<rect x="652.8" y="292.6" width="2.2" height="2.6" fill="#777777" opacity="0.58"/>
<rect x="655.6" y="292.6" width="2.2" height="2.6" fill="#777777" opacity="0.58"/>
<rect x="658.4" y="292.6" width="2.2" height="2.6" fill="#777777" opacity="0.58"/>
<rect x="661.2" y="292.6" width="2.2" height="2.6" fill="#777777" opacity="0.58"/>
<rect x="670.8" y="292.6" width="2.2" height="2.6" fill="#777777" opacity="0.58"/>
<rect x="673.5" y="292.6" width="2.2" height="2.6" fill="#777777" opacity="0.58"/>
<rect x="676.4" y="292.6" width="2.2" height="2.6" fill="#777777" opacity="0.58"/>
<rect x="679.1" y="292.6" width="2.2" height="2.6" fill="#777777" opacity="0.58"/>
<rect x="682.0" y="292.6" width="2.2" height="2.6" fill="#777777" opacity="0.58"/>
<rect x="588.8" y="301.9" width="1.4" height="1.6" fill="#555" opacity="0.7"/>
<rect x="611.5" y="301.9" width="1.4" height="1.6" fill="#555" opacity="0.7"/>
<rect x="634.5" y="301.9" width="1.4" height="1.6" fill="#555" opacity="0.7"/>
<rect x="656.0" y="301.9" width="1.4" height="1.6" fill="#555" opacity="0.7"/>
<rect x="676.8" y="301.9" width="1.4" height="1.6" fill="#555" opacity="0.7"/>
<rect x="582.8" y="309.9" width="2.2" height="2.6" fill="#777777" opacity="0.58"/>
<rect x="585.5" y="309.9" width="2.2" height="2.6" fill="#777777" opacity="0.58"/>
<rect x="588.4" y="309.9" width="2.2" height="2.6" fill="#777777" opacity="0.58"/>
<rect x="591.1" y="309.9" width="2.2" height="2.6" fill="#777777" opacity="0.58"/>
<rect x="594.0" y="309.9" width="2.2" height="2.6" fill="#777777" opacity="0.58"/>
<rect x="605.5" y="309.9" width="2.2" height="2.6" fill="#777777" opacity="0.58"/>
<rect x="608.2" y="309.9" width="2.2" height="2.6" fill="#777777" opacity="0.58"/>
<rect x="611.1" y="309.9" width="2.2" height="2.6" fill="#777777" opacity="0.58"/>
<rect x="613.9" y="309.9" width="2.2" height="2.6" fill="#777777" opacity="0.58"/>
<rect x="616.7" y="309.9" width="2.2" height="2.6" fill="#777777" opacity="0.58"/>
<rect x="628.5" y="309.9" width="2.2" height="2.6" fill="#777777" opacity="0.58"/>
<rect x="631.3" y="309.9" width="2.2" height="2.6" fill="#777777" opacity="0.58"/>
<rect x="634.1" y="309.9" width="2.2" height="2.6" fill="#777777" opacity="0.58"/>
<rect x="636.9" y="309.9" width="2.2" height="2.6" fill="#777777" opacity="0.58"/>
<rect x="639.8" y="309.9" width="2.2" height="2.6" fill="#777777" opacity="0.58"/>
<rect x="650.0" y="309.9" width="2.2" height="2.6" fill="#777777" opacity="0.58"/>
<rect x="652.8" y="309.9" width="2.2" height="2.6" fill="#777777" opacity="0.58"/>
<rect x="655.6" y="309.9" width="2.2" height="2.6" fill="#777777" opacity="0.58"/>
<rect x="658.4" y="309.9" width="2.2" height="2.6" fill="#777777" opacity="0.58"/>
<rect x="661.2" y="309.9" width="2.2" height="2.6" fill="#777777" opacity="0.58"/>
<rect x="670.8" y="309.9" width="2.2" height="2.6" fill="#777777" opacity="0.58"/>
<rect x="673.5" y="309.9" width="2.2" height="2.6" fill="#777777" opacity="0.58"/>
<rect x="676.4" y="309.9" width="2.2" height="2.6" fill="#777777" opacity="0.58"/>
<rect x="679.1" y="309.9" width="2.2" height="2.6" fill="#777777" opacity="0.58"/>
<rect x="682.0" y="309.9" width="2.2" height="2.6" fill="#777777" opacity="0.58"/>
<rect x="588.8" y="318.9" width="1.4" height="1.6" fill="#555" opacity="0.7"/>
<rect x="611.5" y="318.9" width="1.4" height="1.6" fill="#555" opacity="0.7"/>
<rect x="634.5" y="318.9" width="1.4" height="1.6" fill="#555" opacity="0.7"/>
<rect x="656.0" y="318.9" width="1.4" height="1.6" fill="#555" opacity="0.7"/>
<rect x="676.8" y="318.9" width="1.4" height="1.6" fill="#555" opacity="0.7"/>
<rect x="582.8" y="327.1" width="2.2" height="2.6" fill="#777777" opacity="0.58"/>
<rect x="585.5" y="327.1" width="2.2" height="2.6" fill="#777777" opacity="0.58"/>
<rect x="588.4" y="327.1" width="2.2" height="2.6" fill="#777777" opacity="0.58"/>
<rect x="591.1" y="327.1" width="2.2" height="2.6" fill="#777777" opacity="0.58"/>
<rect x="594.0" y="327.1" width="2.2" height="2.6" fill="#777777" opacity="0.58"/>
<rect x="605.5" y="327.1" width="2.2" height="2.6" fill="#777777" opacity="0.58"/>
<rect x="608.2" y="327.1" width="2.2" height="2.6" fill="#777777" opacity="0.58"/>
<rect x="611.1" y="327.1" width="2.2" height="2.6" fill="#777777" opacity="0.58"/>
<rect x="613.9" y="327.1" width="2.2" height="2.6" fill="#777777" opacity="0.58"/>
<rect x="616.7" y="327.1" width="2.2" height="2.6" fill="#777777" opacity="0.58"/>
<rect x="628.5" y="327.1" width="2.2" height="2.6" fill="#777777" opacity="0.58"/>
<rect x="631.3" y="327.1" width="2.2" height="2.6" fill="#777777" opacity="0.58"/>
<rect x="634.1" y="327.1" width="2.2" height="2.6" fill="#777777" opacity="0.58"/>
<rect x="636.9" y="327.1" width="2.2" height="2.6" fill="#777777" opacity="0.58"/>
<rect x="639.8" y="327.1" width="2.2" height="2.6" fill="#777777" opacity="0.58"/>
<rect x="650.0" y="327.1" width="2.2" height="2.6" fill="#777777" opacity="0.58"/>
<rect x="652.8" y="327.1" width="2.2" height="2.6" fill="#777777" opacity="0.58"/>
<rect x="655.6" y="327.1" width="2.2" height="2.6" fill="#777777" opacity="0.58"/>
<rect x="658.4" y="327.1" width="2.2" height="2.6" fill="#777777" opacity="0.58"/>
<rect x="661.2" y="327.1" width="2.2" height="2.6" fill="#777777" opacity="0.58"/>
<rect x="670.8" y="327.1" width="2.2" height="2.6" fill="#777777" opacity="0.58"/>
<rect x="673.5" y="327.1" width="2.2" height="2.6" fill="#777777" opacity="0.58"/>
<rect x="676.4" y="327.1" width="2.2" height="2.6" fill="#777777" opacity="0.58"/>
<rect x="679.1" y="327.1" width="2.2" height="2.6" fill="#777777" opacity="0.58"/>
<rect x="682.0" y="327.1" width="2.2" height="2.6" fill="#777777" opacity="0.58"/>
<rect x="588.8" y="336.1" width="1.4" height="1.6" fill="#555" opacity="0.7"/>
<rect x="611.5" y="336.1" width="1.4" height="1.6" fill="#555" opacity="0.7"/>
<rect x="634.5" y="336.1" width="1.4" height="1.6" fill="#555" opacity="0.7"/>
<rect x="656.0" y="336.1" width="1.4" height="1.6" fill="#555" opacity="0.7"/>
<rect x="676.8" y="336.1" width="1.4" height="1.6" fill="#555" opacity="0.7"/>
<rect x="582.8" y="343.9" width="2.2" height="2.6" fill="#777777" opacity="0.58"/>
<rect x="585.5" y="343.9" width="2.2" height="2.6" fill="#777777" opacity="0.58"/>
<rect x="588.4" y="343.9" width="2.2" height="2.6" fill="#777777" opacity="0.58"/>
<rect x="591.1" y="343.9" width="2.2" height="2.6" fill="#777777" opacity="0.58"/>
<rect x="594.0" y="343.9" width="2.2" height="2.6" fill="#777777" opacity="0.58"/>
<rect x="605.5" y="343.9" width="2.2" height="2.6" fill="#777777" opacity="0.58"/>
<rect x="608.2" y="343.9" width="2.2" height="2.6" fill="#777777" opacity="0.58"/>
<rect x="611.1" y="343.9" width="2.2" height="2.6" fill="#777777" opacity="0.58"/>
<rect x="613.9" y="343.9" width="2.2" height="2.6" fill="#777777" opacity="0.58"/>
<rect x="616.7" y="343.9" width="2.2" height="2.6" fill="#777777" opacity="0.58"/>
<rect x="628.5" y="343.9" width="2.2" height="2.6" fill="#777777" opacity="0.58"/>
<rect x="631.3" y="343.9" width="2.2" height="2.6" fill="#777777" opacity="0.58"/>
<rect x="634.1" y="343.9" width="2.2" height="2.6" fill="#777777" opacity="0.58"/>
<rect x="636.9" y="343.9" width="2.2" height="2.6" fill="#777777" opacity="0.58"/>
<rect x="639.8" y="343.9" width="2.2" height="2.6" fill="#777777" opacity="0.58"/>
<rect x="650.0" y="343.9" width="2.2" height="2.6" fill="#777777" opacity="0.58"/>
<rect x="652.8" y="343.9" width="2.2" height="2.6" fill="#777777" opacity="0.58"/>
<rect x="655.6" y="343.9" width="2.2" height="2.6" fill="#777777" opacity="0.58"/>
<rect x="658.4" y="343.9" width="2.2" height="2.6" fill="#777777" opacity="0.58"/>
<rect x="661.2" y="343.9" width="2.2" height="2.6" fill="#777777" opacity="0.58"/>
<rect x="670.8" y="343.9" width="2.2" height="2.6" fill="#777777" opacity="0.58"/>
<rect x="673.5" y="343.9" width="2.2" height="2.6" fill="#777777" opacity="0.58"/>
<rect x="676.4" y="343.9" width="2.2" height="2.6" fill="#777777" opacity="0.58"/>
<rect x="679.1" y="343.9" width="2.2" height="2.6" fill="#777777" opacity="0.58"/>
<rect x="682.0" y="343.9" width="2.2" height="2.6" fill="#777777" opacity="0.58"/>
<rect x="588.8" y="352.9" width="1.4" height="1.6" fill="#555" opacity="0.7"/>
<rect x="611.5" y="352.9" width="1.4" height="1.6" fill="#555" opacity="0.7"/>
<rect x="634.5" y="352.9" width="1.4" height="1.6" fill="#555" opacity="0.7"/>
<rect x="656.0" y="352.9" width="1.4" height="1.6" fill="#555" opacity="0.7"/>
<rect x="676.8" y="352.9" width="1.4" height="1.6" fill="#555" opacity="0.7"/>
<rect x="582.8" y="360.9" width="2.2" height="2.6" fill="#777777" opacity="0.58"/>
<rect x="585.5" y="360.9" width="2.2" height="2.6" fill="#777777" opacity="0.58"/>
<rect x="588.4" y="360.9" width="2.2" height="2.6" fill="#777777" opacity="0.58"/>
<rect x="591.1" y="360.9" width="2.2" height="2.6" fill="#777777" opacity="0.58"/>
<rect x="594.0" y="360.9" width="2.2" height="2.6" fill="#777777" opacity="0.58"/>
<rect x="605.5" y="360.9" width="2.2" height="2.6" fill="#777777" opacity="0.58"/>
<rect x="608.2" y="360.9" width="2.2" height="2.6" fill="#777777" opacity="0.58"/>
<rect x="611.1" y="360.9" width="2.2" height="2.6" fill="#777777" opacity="0.58"/>
<rect x="613.9" y="360.9" width="2.2" height="2.6" fill="#777777" opacity="0.58"/>
<rect x="616.7" y="360.9" width="2.2" height="2.6" fill="#777777" opacity="0.58"/>
<rect x="628.5" y="360.9" width="2.2" height="2.6" fill="#777777" opacity="0.58"/>
<rect x="631.3" y="360.9" width="2.2" height="2.6" fill="#777777" opacity="0.58"/>
<rect x="634.1" y="360.9" width="2.2" height="2.6" fill="#777777" opacity="0.58"/>
<rect x="636.9" y="360.9" width="2.2" height="2.6" fill="#777777" opacity="0.58"/>
<rect x="639.8" y="360.9" width="2.2" height="2.6" fill="#777777" opacity="0.58"/>
<rect x="650.0" y="360.9" width="2.2" height="2.6" fill="#777777" opacity="0.58"/>
<rect x="652.8" y="360.9" width="2.2" height="2.6" fill="#777777" opacity="0.58"/>
<rect x="655.6" y="360.9" width="2.2" height="2.6" fill="#777777" opacity="0.58"/>
<rect x="658.4" y="360.9" width="2.2" height="2.6" fill="#777777" opacity="0.58"/>
<rect x="661.2" y="360.9" width="2.2" height="2.6" fill="#777777" opacity="0.58"/>
<rect x="670.8" y="360.9" width="2.2" height="2.6" fill="#777777" opacity="0.58"/>
<rect x="673.5" y="360.9" width="2.2" height="2.6" fill="#777777" opacity="0.58"/>
<rect x="676.4" y="360.9" width="2.2" height="2.6" fill="#777777" opacity="0.58"/>
<rect x="679.1" y="360.9" width="2.2" height="2.6" fill="#777777" opacity="0.58"/>
<rect x="682.0" y="360.9" width="2.2" height="2.6" fill="#777777" opacity="0.58"/>
<rect x="583.8" y="369.3" width="2.4" height="2.6" fill="#777777" opacity="0.58"/>
<rect x="586.8" y="369.3" width="2.4" height="2.6" fill="#777777" opacity="0.58"/>
<rect x="589.8" y="369.3" width="2.4" height="2.6" fill="#777777" opacity="0.58"/>
<rect x="592.8" y="369.3" width="2.4" height="2.6" fill="#777777" opacity="0.58"/>
<rect x="606.5" y="369.3" width="2.4" height="2.6" fill="#777777" opacity="0.58"/>
<rect x="609.5" y="369.3" width="2.4" height="2.6" fill="#777777" opacity="0.58"/>
<rect x="612.5" y="369.3" width="2.4" height="2.6" fill="#777777" opacity="0.58"/>
<rect x="615.5" y="369.3" width="2.4" height="2.6" fill="#777777" opacity="0.58"/>
<rect x="629.5" y="369.3" width="2.4" height="2.6" fill="#777777" opacity="0.58"/>
<rect x="632.5" y="369.3" width="2.4" height="2.6" fill="#777777" opacity="0.58"/>
<rect x="635.5" y="369.3" width="2.4" height="2.6" fill="#777777" opacity="0.58"/>
<rect x="638.5" y="369.3" width="2.4" height="2.6" fill="#777777" opacity="0.58"/>
<rect x="651.0" y="369.3" width="2.4" height="2.6" fill="#777777" opacity="0.58"/>
<rect x="654.0" y="369.3" width="2.4" height="2.6" fill="#777777" opacity="0.58"/>
<rect x="657.0" y="369.3" width="2.4" height="2.6" fill="#777777" opacity="0.58"/>
<rect x="660.0" y="369.3" width="2.4" height="2.6" fill="#777777" opacity="0.58"/>
<rect x="671.8" y="369.3" width="2.4" height="2.6" fill="#777777" opacity="0.58"/>
<rect x="674.8" y="369.3" width="2.4" height="2.6" fill="#777777" opacity="0.58"/>
<rect x="677.8" y="369.3" width="2.4" height="2.6" fill="#777777" opacity="0.58"/>
<rect x="680.8" y="369.3" width="2.4" height="2.6" fill="#777777" opacity="0.58"/>
<rect x="581.8" y="378.2" width="2.6" height="2.6" fill="#777777" opacity="0.58"/>
<rect x="585.0" y="378.2" width="2.6" height="2.6" fill="#777777" opacity="0.58"/>
<rect x="588.1" y="378.2" width="2.6" height="2.6" fill="#777777" opacity="0.58"/>
<rect x="591.4" y="378.2" width="2.6" height="2.6" fill="#777777" opacity="0.58"/>
<rect x="594.5" y="378.2" width="2.6" height="2.6" fill="#777777" opacity="0.58"/>
<rect x="581.8" y="386.4" width="2.6" height="2.6" fill="#777777" opacity="0.58"/>
<rect x="585.0" y="386.4" width="2.6" height="2.6" fill="#777777" opacity="0.58"/>
<rect x="588.1" y="386.4" width="2.6" height="2.6" fill="#777777" opacity="0.58"/>
<rect x="591.4" y="386.4" width="2.6" height="2.6" fill="#777777" opacity="0.58"/>
<rect x="594.5" y="386.4" width="2.6" height="2.6" fill="#777777" opacity="0.58"/>

</g>

<!-- footer -->
<text x="18.80" y="422.6" font-size="9.4" font-style="italic" fill="#6e5c80" textLength="22.42" lengthAdjust="spacingAndGlyphs" style="font-family:'Liberation Sans',sans-serif">euro</text>
<g fill="none" stroke="#5f2a88" stroke-width="3.5">
<path d="M20.6,426.4 V443.9"/>
<path d="M20.6,428.15 H27.6 A4.1,4.1 0 0 1 27.6,436.35 H20.6"/>
<path d="M47.4,428.15 H38.95 A7.05,7.05 0 1 0 43.6,440.4"/>
<path d="M47.4,426.4 V443.9"/>
<path d="M47.4,428.15 H53.2 A4.1,4.1 0 0 1 53.2,436.35 H47.4"/>
<path d="M52.5,436.3 L60.8,443.9" stroke-width="3.8"/>
</g>
<text x="713.50" y="435.5" font-size="10.5" fill="#684c80" textLength="61.51" lengthAdjust="spacingAndGlyphs" style="font-family:'Liberation Sans',sans-serif">europcr.com</text>
</svg>
</body></html>
